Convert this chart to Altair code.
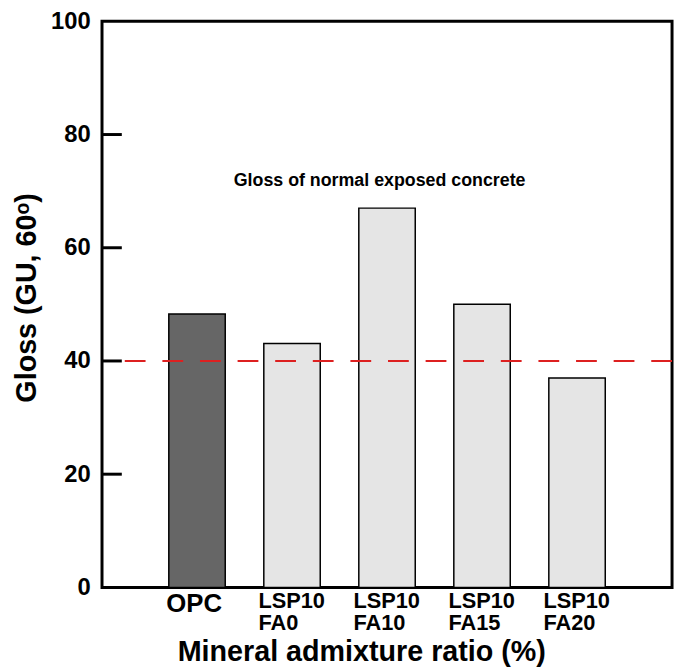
import altair as alt
import pandas as pd

categories = ["OPC", "LSP10 FA0", "LSP10 FA10", "LSP10 FA15", "LSP10 FA20"]
gloss = [48.3, 43.1, 67.0, 50.0, 37.0]
bar_colors = ["#666666", "#e5e5e5", "#e5e5e5", "#e5e5e5", "#e5e5e5"]
y_ticks = [0, 20, 40, 60, 80, 100]
inner_ticks = [20, 40, 60, 80]
reference_gloss = [40]
annotation = ["Gloss of normal exposed concrete"]
annotation_y = [71.8]

FONT = "Liberation Sans"
Y_TITLE = "Gloss (GU, 60ᵒ)"

bars_df = pd.DataFrame({"cat": categories, "gloss": gloss})
ticks_df = pd.DataFrame({"tick": inner_ticks})
ref_df = pd.DataFrame({"ref": reference_gloss})
ann_df = pd.DataFrame({"label": annotation, "ypos": annotation_y})

y_scale = alt.Scale(domain=[0, 100], nice=False, zero=True)

bars = alt.Chart(bars_df).mark_bar(stroke="black", strokeWidth=1.5).encode(
    x=alt.X(
        "cat:N",
        sort=categories,
        scale=alt.Scale(paddingInner=0.406, paddingOuter=0.703),
        axis=alt.Axis(
            title="Mineral admixture ratio (%)",
            titleFont=FONT,
            titleFontSize=29,
            titleFontWeight="bold",
            titleColor="black",
            titleX=262,
            titleY=74,
            titleAnchor="start",
            titleAlign="center",
            titleBaseline="alphabetic",
            labelExpr="split(datum.label, ' ')",
            labelAngle=0,
            labelFont=FONT,
            labelFontWeight="bold",
            labelColor="black",
            labelFontSize={"condition": {"test": "datum.value == 'OPC'", "value": 26}, "value": 22},
            labelOffset={"condition": {"test": "datum.value == 'OPC'", "value": -31}, "value": -34},
            labelAlign="left",
            labelBaseline="top",
            labelLineHeight=23,
            labelPadding=3,
            labelOverlap=False,
            ticks=False,
            tickSize=0,
            domain=False,
        ),
    ),
    y=alt.Y(
        "gloss:Q",
        scale=y_scale,
        title=Y_TITLE,
        axis=alt.Axis(
            values=y_ticks,
            titleFont=FONT,
            titleFontSize=29,
            titleFontWeight="bold",
            titleColor="black",
            titleAngle=270,
            titleAlign="center",
            titleBaseline="middle",
            titleX=-76,
            titleY=279,
            labelFont=FONT,
            labelFontSize=24,
            labelFontWeight="bold",
            labelColor="black",
            labelPadding=12,
            ticks=False,
            tickSize=0,
            domain=False,
            grid=False,
        ),
    ),
    color=alt.Color("cat:N", scale=alt.Scale(domain=categories, range=bar_colors), legend=None),
)

ref_line = alt.Chart(ref_df).mark_rule(
    color="#dd2020", strokeWidth=2, strokeDash=[21, 17]
).encode(y=alt.Y("ref:Q", scale=y_scale, title=Y_TITLE))

inner = alt.Chart(ticks_df).mark_rule(color="black", strokeWidth=3).encode(
    x=alt.value(0), x2=alt.value(20), y=alt.Y("tick:Q", scale=y_scale, title=Y_TITLE)
)

ann = alt.Chart(ann_df).mark_text(
    font=FONT, fontSize=18, fontWeight="bold", color="black", align="center", baseline="middle"
).encode(
    x=alt.value(280.5),
    y=alt.Y("ypos:Q", scale=y_scale, title=Y_TITLE),
    text="label:N",
)

chart = (
    alt.layer(bars, ref_line, inner, ann)
    .properties(
        width=576,
        height=572,
        autosize=alt.AutoSizeParams(type="none"),
        padding={"left": 95, "top": 10, "right": 4, "bottom": 80},
        background="white",
    )
    .configure_view(stroke="black", strokeWidth=3)
)

chart.save("out.html", embed_options={"renderer": "svg", "actions": False})
